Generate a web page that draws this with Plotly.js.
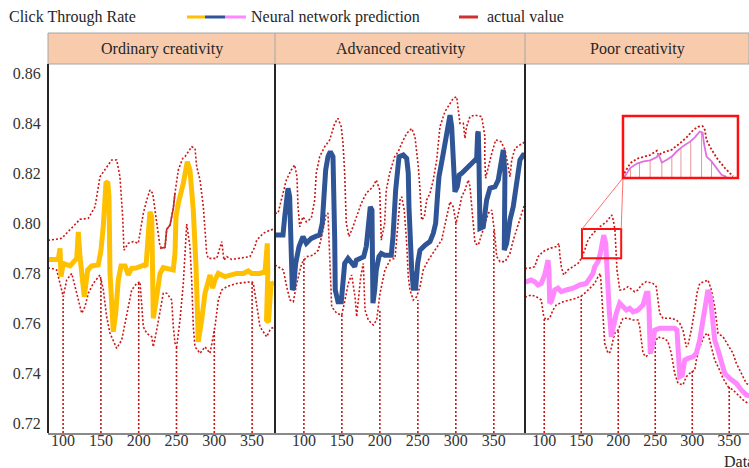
<!DOCTYPE html>
<html><head><meta charset="utf-8">
<script src="https://cdn.plot.ly/plotly-3.0.1.min.js"></script>
<style>html,body{margin:0;padding:0;background:#fff}#chart{width:749px;height:468px}</style>
</head><body><div id="chart"></div>
<script>
// ---------- data ----------
const tickValues = [100,150,200,250,300,350];
const yTickValues = [0.72,0.74,0.76,0.78,0.80,0.82,0.84,0.86];
const panelTitles = ['Ordinary creativity','Advanced creativity','Poor creativity'];

// Ordinary creativity
const ordPred = [[80,0.7856],[82.6,0.7856],[93.6,0.7856],[95.9,0.7900],[97.2,0.7787],[100.2,0.7840],[109.1,0.7830],[118.0,0.7860],[120.1,0.7966],[122.3,0.7867],[128.0,0.7707],[132.5,0.7814],[137.8,0.7830],[146.5,0.7834],[150.1,0.7893],[153.1,0.7986],[156.7,0.8161],[159.0,0.8166],[160.7,0.8106],[162.0,0.7802],[164.3,0.7614],[166.4,0.7567],[169.6,0.7642],[173.0,0.7774],[176.6,0.7830],[181.9,0.7830],[186.2,0.7794],[190.7,0.7820],[197.3,0.7822],[207.4,0.7834],[209.6,0.7827],[212.7,0.7933],[214.9,0.8046],[217.2,0.8026],[217.6,0.7827],[218.0,0.7627],[219.3,0.7621],[223.8,0.7707],[228.2,0.7800],[232.5,0.7823],[237.0,0.7820],[245.7,0.7814],[248.0,0.7880],[249.3,0.8026],[252.4,0.8080],[259.0,0.8160],[264.3,0.8246],[267.8,0.8213],[272.2,0.8053],[274.5,0.7947],[275.8,0.7827],[277.5,0.7667],[278.8,0.7527],[283.3,0.7614],[287.7,0.7721],[294.3,0.7794],[297.9,0.7741],[300.9,0.7774],[305.3,0.7800],[314.1,0.7787],[320.7,0.7794],[329.6,0.7800],[338.3,0.7800],[344.9,0.7810],[349.5,0.7800],[360.4,0.7800],[367.1,0.7807],[370.1,0.7920],[370.8,0.7802],[369.1,0.7614],[371.7,0.7606],[373.7,0.7674],[375.0,0.7758],[379,0.7762]];
const ordUpper = [[80,0.7933],[82.6,0.7933],[98.1,0.7940],[109.1,0.7973],[122.3,0.8016],[133.3,0.8020],[142.2,0.8066],[148.8,0.8186],[157.6,0.8226],[164.3,0.8253],[170.9,0.8253],[175.2,0.8186],[178.8,0.8026],[180.5,0.7893],[186.2,0.7920],[192.8,0.7927],[199.4,0.7920],[206.1,0.8040],[210.6,0.8093],[214.9,0.8133],[218.5,0.8120],[221.5,0.8053],[228.2,0.7907],[232.5,0.7900],[234.8,0.7904],[237.0,0.7976],[241.4,0.7993],[245.8,0.8060],[248.0,0.8121],[252.4,0.8213],[258.2,0.8259],[261.2,0.8266],[270.1,0.8306],[274.5,0.8299],[276.7,0.8226],[281.1,0.8173],[285.5,0.8066],[289.9,0.7880],[292.0,0.7860],[303.2,0.7860],[309.8,0.7927],[312.8,0.7853],[316.4,0.7867],[323.0,0.7856],[334.0,0.7860],[347.2,0.7867],[353.8,0.7907],[356.1,0.7933],[364.8,0.7960],[373.7,0.7973],[379.0,0.7977]];
const ordLower = [[80,0.7822],[84.9,0.7820],[91.5,0.7814],[95.9,0.7760],[100.2,0.7707],[104.7,0.7774],[111.4,0.7800],[118.0,0.7721],[124.6,0.7641],[128.9,0.7667],[133.3,0.7721],[139.9,0.7760],[148.8,0.7794],[153.2,0.7734],[157.6,0.7627],[162.0,0.7561],[170.9,0.7501],[177.5,0.7534],[184.1,0.7627],[190.7,0.7734],[197.3,0.7760],[201.7,0.7767],[206.1,0.7587],[210.6,0.7561],[217.2,0.7547],[219.3,0.7507],[223.8,0.7574],[227.2,0.7634],[232.5,0.7721],[237.0,0.7721],[243.6,0.7694],[245.8,0.7587],[248.0,0.7522],[250.2,0.7507],[254.6,0.7614],[259.0,0.7760],[263.5,0.7997],[267.8,0.7907],[270.1,0.7774],[272.2,0.7587],[274.5,0.7507],[281.1,0.7481],[287.7,0.7507],[294.3,0.7481],[300.9,0.7587],[305.3,0.7694],[309.8,0.7734],[316.4,0.7747],[329.6,0.7760],[349.5,0.7767],[351.6,0.7760],[355.1,0.7694],[360.4,0.7587],[369.3,0.7547],[373.7,0.7574],[376.3,0.7582],[380.3,0.7585]];
const ordActual = [[228.2,0.7900],[234.8,0.7904],[237.0,0.7976],[241.4,0.7993],[245.8,0.8060],[248.0,0.8121]];
const ordMarkTop = [0.7707,0.7780,0.7765,0.7507,0.7580,0.7767];

// Advanced creativity
const advPred = [[62,0.7953],[72.5,0.7953],[74.8,0.8026],[76.9,0.8106],[79.1,0.8140],[81.3,0.8106],[83.4,0.7933],[84.8,0.7734],[86.6,0.7747],[89.2,0.7840],[93.6,0.7907],[98.8,0.7947],[103.2,0.7920],[109.8,0.7940],[116.3,0.7949],[120.8,0.7953],[124.2,0.8000],[126.1,0.8133],[128.7,0.8213],[131.7,0.8266],[134.8,0.8286],[138.3,0.8266],[139.6,0.8133],[140.6,0.7933],[141.3,0.7734],[144.9,0.7687],[149.2,0.7687],[151.5,0.7760],[153.7,0.7840],[158.1,0.7860],[162.4,0.7847],[166.9,0.7827],[169.0,0.7853],[174.2,0.7860],[178.7,0.7867],[182.1,0.7907],[184.4,0.8000],[187.4,0.8066],[189.6,0.8053],[190.0,0.7933],[190.9,0.7681],[193.2,0.7734],[195.3,0.7814],[198.8,0.7867],[201.9,0.7880],[206.3,0.7873],[215.0,0.7873],[217.3,0.7947],[220.8,0.8133],[225.2,0.8266],[230.8,0.8273],[235.3,0.8259],[237.4,0.8200],[238.3,0.8066],[239.6,0.7933],[241.9,0.7814],[244.0,0.7741],[247.1,0.7741],[249.8,0.7840],[252.8,0.7893],[259.4,0.7913],[265.9,0.7927],[270.3,0.7960],[273.4,0.8000],[276.1,0.8120],[277.8,0.8186],[283.4,0.8279],[287.9,0.8346],[290.9,0.8399],[292.3,0.8432],[294.5,0.8386],[296.6,0.8200],[298.8,0.8126],[301.9,0.8146],[304.5,0.8193],[307.7,0.8200],[312.0,0.8213],[320.8,0.8233],[327.4,0.8259],[328.7,0.8359],[329.5,0.8366],[330.4,0.8259],[330.4,0.7986],[331.7,0.7980],[336.1,0.7986],[340.5,0.8093],[344.9,0.8140],[351.5,0.8146],[355.8,0.8173],[360.3,0.8273],[362.4,0.8293],[364.6,0.8200],[363.7,0.8066],[363.7,0.7893],[366.8,0.7920],[371.2,0.8013],[375.5,0.8066],[380.0,0.8160],[384.4,0.8253],[388.7,0.8273],[391,0.8273]];
const advUpper = [[62,0.8041],[65.9,0.8040],[70.3,0.8093],[76.9,0.8173],[83.4,0.8213],[87.9,0.8233],[90.9,0.8186],[92.3,0.8066],[94.5,0.7986],[98.8,0.8026],[103.2,0.8006],[109.8,0.8020],[114.2,0.8093],[116.3,0.8200],[120.8,0.8266],[127.4,0.8306],[134.0,0.8333],[140.6,0.8399],[144.9,0.8419],[149.2,0.8386],[151.5,0.8319],[153.7,0.8200],[155.8,0.8000],[159.4,0.7947],[164.6,0.7986],[169.0,0.8026],[175.6,0.8080],[182.1,0.8120],[190.9,0.8146],[195.3,0.8173],[199.8,0.8133],[200.6,0.8053],[201.9,0.7933],[206.3,0.8000],[208.4,0.8133],[212.9,0.8200],[219.5,0.8266],[224.2,0.8286],[228.7,0.8319],[235.3,0.8359],[241.9,0.8379],[246.2,0.8346],[250.6,0.8226],[252.8,0.8133],[255.0,0.8013],[258.5,0.8026],[261.6,0.8093],[266.0,0.8120],[270.3,0.8173],[274.8,0.8253],[279.1,0.8386],[285.7,0.8446],[292.3,0.8479],[296.6,0.8499],[301.1,0.8505],[303.2,0.8452],[305.4,0.8399],[309.8,0.8399],[312.0,0.8339],[314.2,0.8386],[318.6,0.8426],[325.2,0.8432],[334.0,0.8426],[338.3,0.8346],[338.0,0.8266],[339.2,0.8180],[342.7,0.8226],[347.2,0.8279],[352.5,0.8333],[359.4,0.8326],[364.7,0.8293],[369.1,0.8226],[371.3,0.8186],[373.5,0.8253],[377.8,0.8299],[384.4,0.8313],[388.7,0.8319],[391,0.8325]];
const advLower = [[62,0.7834],[72.9,0.7814],[77.4,0.7747],[81.7,0.7694],[86.1,0.7687],[90.6,0.7760],[97.1,0.7840],[103.7,0.7867],[112.4,0.7873],[119.0,0.7893],[123.8,0.7953],[129.1,0.8033],[131.7,0.8041],[133.7,0.7893],[136.6,0.7667],[143.2,0.7641],[149.8,0.7634],[154.1,0.7694],[158.4,0.7760],[162.9,0.7794],[167.3,0.7707],[169.5,0.7627],[171.6,0.7694],[174.8,0.7787],[178.2,0.7840],[180.4,0.7654],[184.8,0.7614],[191.3,0.7594],[195.8,0.7614],[200.2,0.7721],[206.7,0.7814],[213.3,0.7853],[219.9,0.7861],[224.2,0.8000],[226.5,0.8093],[228.7,0.8106],[232.1,0.8053],[235.3,0.7920],[237.4,0.7787],[239.6,0.7734],[244.0,0.7694],[248.4,0.7707],[252.8,0.7747],[257.1,0.7814],[263.7,0.7853],[272.5,0.7893],[281.3,0.7933],[287.9,0.8026],[292.3,0.8086],[296.6,0.8066],[300.2,0.8000],[302.8,0.8033],[307.7,0.8106],[312.0,0.8133],[316.3,0.8173],[318.6,0.8146],[322.9,0.8000],[325.2,0.7920],[329.5,0.7913],[336.1,0.7973],[342.7,0.8040],[347.2,0.8053],[350.6,0.7973],[353.8,0.7867],[358.1,0.7847],[364.7,0.7847],[371.2,0.7880],[375.6,0.7933],[382.2,0.8000],[388.7,0.8066],[391,0.8081]];
const advMarkTop = [0.7867,0.7634,0.7650,0.7694,0.8000,0.7973];

// Poor creativity
const poorPred = [[74,0.7767],[75.8,0.7767],[82.5,0.7774],[87.1,0.7767],[91.6,0.7754],[96.0,0.7760],[100.6,0.7794],[105.1,0.7853],[106.4,0.7814],[107.4,0.7681],[109.5,0.7687],[114.1,0.7734],[118.6,0.7741],[123.1,0.7727],[129.8,0.7734],[138.9,0.7741],[147.9,0.7754],[156.8,0.7760],[161.4,0.7780],[165.9,0.7800],[168.2,0.7827],[172.7,0.7847],[175.8,0.7880],[178.5,0.7940],[180.4,0.7953],[183.1,0.7920],[184.8,0.7774],[187.5,0.7667],[190.6,0.7547],[192.9,0.7587],[197.4,0.7641],[202.0,0.7681],[206.4,0.7667],[210.9,0.7654],[215.5,0.7661],[220.0,0.7647],[226.7,0.7654],[233.5,0.7674],[237.9,0.7721],[240.2,0.7721],[241.6,0.7654],[242.5,0.7547],[243.3,0.7481],[246.0,0.7507],[249.3,0.7574],[256.0,0.7581],[264.9,0.7581],[276.3,0.7581],[279.4,0.7574],[280.8,0.7481],[283.1,0.7388],[286.6,0.7394],[289.8,0.7454],[294.3,0.7461],[301.0,0.7467],[305.5,0.7481],[310.1,0.7534],[314.5,0.7614],[319.0,0.7707],[321.3,0.7734],[324.4,0.7707],[327.1,0.7614],[330.4,0.7534],[334.8,0.7494],[339.3,0.7454],[343.9,0.7401],[350.6,0.7381],[359.6,0.7361],[366.3,0.7335],[373.1,0.7315],[377.7,0.7311]];
const poorUpper = [[74,0.7820],[78.1,0.7820],[87.1,0.7827],[91.6,0.7867],[98.3,0.7887],[107.4,0.7900],[116.3,0.7907],[119.9,0.7920],[120.9,0.7880],[123.1,0.7827],[126.3,0.7794],[132.1,0.7814],[138.9,0.7827],[145.6,0.7840],[150.1,0.7860],[154.7,0.7893],[159.1,0.7933],[165.9,0.7960],[174.9,0.7986],[183.9,0.8006],[191.2,0.8033],[193.3,0.8013],[195.6,0.7973],[197.4,0.7880],[198.3,0.7814],[202.0,0.7734],[206.4,0.7734],[213.2,0.7747],[215.5,0.7741],[222.2,0.7727],[226.7,0.7734],[231.2,0.7754],[237.9,0.7767],[247.0,0.7760],[251.4,0.7747],[253.7,0.7694],[256.0,0.7641],[260.5,0.7621],[264.9,0.7621],[271.7,0.7621],[278.5,0.7614],[283.1,0.7601],[287.5,0.7574],[292.0,0.7507],[294.3,0.7514],[298.7,0.7574],[303.3,0.7654],[306.4,0.7721],[310.1,0.7760],[316.8,0.7767],[321.3,0.7774],[323.6,0.7754],[325.8,0.7734],[330.4,0.7667],[334.8,0.7561],[341.6,0.7547],[348.3,0.7514],[355.1,0.7481],[359.6,0.7441],[366.3,0.7401],[373.1,0.7361],[376.7,0.7355]];
const poorLower = [[74,0.7707],[75.8,0.7707],[82.5,0.7714],[89.3,0.7707],[96.0,0.7694],[99.3,0.7627],[102.8,0.7614],[107.4,0.7621],[111.8,0.7654],[116.3,0.7674],[125.4,0.7687],[134.4,0.7694],[143.3,0.7701],[152.4,0.7714],[161.4,0.7741],[168.2,0.7760],[172.7,0.7787],[175.8,0.7800],[177.1,0.7747],[179.4,0.7627],[181.7,0.7521],[186.2,0.7481],[189.3,0.7487],[192.0,0.7521],[195.2,0.7561],[199.7,0.7574],[204.1,0.7601],[206.4,0.7621],[213.2,0.7621],[220.0,0.7614],[226.7,0.7614],[229.0,0.7587],[231.2,0.7534],[233.5,0.7481],[237.1,0.7467],[242.5,0.7481],[249.3,0.7521],[253.7,0.7547],[258.2,0.7541],[262.8,0.7541],[267.3,0.7527],[271.7,0.7481],[276.3,0.7401],[280.8,0.7361],[287.5,0.7355],[292.0,0.7388],[296.6,0.7401],[303.3,0.7414],[305.5,0.7454],[310.1,0.7507],[316.8,0.7554],[321.3,0.7561],[325.8,0.7507],[330.4,0.7454],[337.1,0.7414],[341.6,0.7381],[348.3,0.7348],[355.1,0.7335],[361.9,0.7315],[368.7,0.7295],[375.4,0.7281]];
const poorMarkTop = [0.7620,0.7710,0.7574,0.7521,0.7414,0.7348];

// Magnified inset (Poor creativity, x 151-204)
const zoomWindowX = [151,204];
const zoomWindowY = [0.7861,0.7977];
const insetPred = [[151.6,0.7863],[154.4,0.7880],[157.4,0.7888],[160.5,0.7892],[163.5,0.7894],[166.6,0.7900],[167.3,0.7906],[168.9,0.7890],[171.2,0.7895],[173.5,0.7901],[175.8,0.7911],[178.8,0.7921],[181.9,0.7929],[184.1,0.7937],[186.4,0.7948],[187.7,0.7946],[188.3,0.7926],[189.5,0.7901],[191.8,0.7892],[194.1,0.7880],[196.4,0.7867],[198.7,0.7863]];
const insetUpper = [[151.6,0.7870],[154.4,0.7889],[157.4,0.7897],[160.5,0.7900],[163.5,0.7904],[166.6,0.7912],[167.3,0.7903],[168.9,0.7908],[171.2,0.7911],[173.5,0.7914],[175.0,0.7919],[177.3,0.7926],[180.3,0.7937],[183.4,0.7951],[185.7,0.7957],[187.7,0.7958],[188.7,0.7951],[189.5,0.7932],[191.8,0.7914],[194.8,0.7895],[197.9,0.7880],[201.7,0.7864]];
const insetStemX = [154.4,158.6,163.5,168.9,173.5,177.7,182.2,187.2,191.8];
const insetStemTop = [0.7880,0.7890,0.7894,0.7890,0.7901,0.7917,0.7929,0.7947,0.7892];

// ---------- build ----------
const Y0 = 0.7163, Y1 = 0.8636;
const RED = '#CC1515';
const DOT = '2px,2px';
const xs = a => a.map(p => p[0]);
const ys = a => a.map(p => p[1]);

function stems(xv, tops, base){
  const x=[], y=[];
  xv.forEach((v,i)=>{ x.push(v,v,null); y.push(base,tops[i],null); });
  return {x,y};
}

const traces = [];
function panel(xa, ya, pred, upper, lower, marks, color){
  traces.push({x:xs(upper),y:ys(upper),xaxis:xa,yaxis:ya,mode:'lines',line:{color:RED,width:1.6,dash:DOT},hoverinfo:'skip'});
  traces.push({x:xs(lower),y:ys(lower),xaxis:xa,yaxis:ya,mode:'lines',line:{color:RED,width:1.6,dash:DOT},hoverinfo:'skip'});
  const s = stems(tickValues, marks, Y0);
  traces.push({x:s.x,y:s.y,xaxis:xa,yaxis:ya,mode:'lines',line:{color:RED,width:1.6,dash:DOT},hoverinfo:'skip'});
  traces.push({x:xs(pred),y:ys(pred),xaxis:xa,yaxis:ya,mode:'lines',line:{color:color,width:5},hoverinfo:'skip'});
}
panel('x','y',ordPred,ordUpper,ordLower,ordMarkTop,'#FFC000');
traces.push({x:xs(ordActual),y:ys(ordActual),xaxis:'x',yaxis:'y',mode:'lines',line:{color:'#C0302A',width:1.6},hoverinfo:'skip'});
panel('x2','y2',advPred,advUpper,advLower,advMarkTop,'#2F5597');
panel('x3','y3',poorPred,poorUpper,poorLower,poorMarkTop,'#FF88FF');

// inset
const is = stems(insetStemX, insetStemTop, zoomWindowY[0]);
traces.push({x:is.x,y:is.y,xaxis:'x4',yaxis:'y4',mode:'lines',line:{color:'rgba(220,60,60,0.55)',width:1},hoverinfo:'skip'});
traces.push({x:xs(insetUpper),y:ys(insetUpper),xaxis:'x4',yaxis:'y4',mode:'lines',line:{color:RED,width:1.8,dash:DOT},hoverinfo:'skip'});
traces.push({x:xs(insetPred),y:ys(insetPred),xaxis:'x4',yaxis:'y4',mode:'lines',line:{color:'#E070E0',width:1.8},hoverinfo:'skip'});

const FONT = '"Liberation Serif","Times New Roman",Times,serif';
const D1 = 227/701, D2 = 477/701;
const xCommon = {tickvals:tickValues, ticks:'', ticklabelstandoff:-8, showgrid:false, zeroline:false,
  showline:true, linecolor:'#8a8a8a', linewidth:2, tickfont:{family:FONT,size:16,color:'#333'}, fixedrange:true};
const yCommon = {range:[Y0,Y1], showgrid:false, zeroline:false, showline:false, fixedrange:true};

// inset box in panel-3 data coordinates
const insetBox = {x0:206.4, x1:361.8, y0:0.8181, y1:0.8428};

const shapes = [
  {type:'rect',xref:'paper',yref:'paper',x0:0,x1:1,y0:1.0,y1:1.084,fillcolor:'#F8CBAD',line:{color:'#A6A6A6',width:1},layer:'below'},
  {type:'line',xref:'paper',yref:'paper',x0:D1,x1:D1,y0:1.0,y1:1.084,line:{color:'#A6A6A6',width:1}},
  {type:'line',xref:'paper',yref:'paper',x0:D2,x1:D2,y0:1.0,y1:1.084,line:{color:'#A6A6A6',width:1}},
  {type:'line',xref:'paper',yref:'paper',x0:0,x1:0,y0:0,y1:1,line:{color:'#262626',width:2}},
  {type:'line',xref:'paper',yref:'paper',x0:D1,x1:D1,y0:0,y1:1,line:{color:'#262626',width:2}},
  {type:'line',xref:'paper',yref:'paper',x0:D2,x1:D2,y0:0,y1:1,line:{color:'#262626',width:2}},
  // legend swatches
  {type:'line',xref:'paper',yref:'paper',x0:0.1983,x1:0.2240,y0:1.1274,y1:1.1274,line:{color:'#FFC000',width:3}},
  {type:'line',xref:'paper',yref:'paper',x0:0.2240,x1:0.2525,y0:1.1274,y1:1.1274,line:{color:'#2F5597',width:3}},
  {type:'line',xref:'paper',yref:'paper',x0:0.2525,x1:0.2825,y0:1.1274,y1:1.1274,line:{color:'#FF88FF',width:3}},
  {type:'line',xref:'paper',yref:'paper',x0:0.5863,x1:0.6134,y0:1.1274,y1:1.1274,line:{color:'#D03030',width:3}},
  // zoom window, connectors, inset frame
  {type:'rect',xref:'x3',yref:'y3',x0:zoomWindowX[0],x1:zoomWindowX[1],y0:zoomWindowY[0],y1:zoomWindowY[1],line:{color:'#FF1010',width:2}},
  {type:'line',xref:'x3',yref:'y3',x0:zoomWindowX[0],y0:zoomWindowY[1],x1:insetBox.x0,y1:insetBox.y0,line:{color:'#FF7070',width:1}},
  {type:'line',xref:'x3',yref:'y3',x0:zoomWindowX[1],y0:zoomWindowY[1],x1:insetBox.x0,y1:insetBox.y0,line:{color:'#FF7070',width:1}},
  {type:'rect',xref:'x3',yref:'y3',x0:insetBox.x0,x1:insetBox.x1,y0:insetBox.y0,y1:insetBox.y1,line:{color:'#FF1010',width:2.5}}
];

const annFont = {family:FONT,size:16,color:'#262626'};
const annotations = [
  {xref:'paper',yref:'paper',x:-0.0585,y:1.1274,xanchor:'left',yanchor:'middle',text:'Click Through Rate',showarrow:false,font:annFont},
  {xref:'paper',yref:'paper',x:0.2867,y:1.1274,xanchor:'left',yanchor:'middle',text:'Neural network prediction',showarrow:false,font:annFont},
  {xref:'paper',yref:'paper',x:0.6234,y:1.1274,xanchor:'left',yanchor:'middle',text:'actual value',showarrow:false,font:annFont},
  {xref:'paper',yref:'paper',x:D1/2,y:1.041,xanchor:'center',yanchor:'middle',text:panelTitles[0],showarrow:false,font:annFont},
  {xref:'paper',yref:'paper',x:(D1+D2)/2,y:1.041,xanchor:'center',yanchor:'middle',text:panelTitles[1],showarrow:false,font:annFont},
  {xref:'paper',yref:'paper',x:(D2+1)/2,y:1.041,xanchor:'center',yanchor:'middle',text:panelTitles[2],showarrow:false,font:annFont},
  {xref:'paper',yref:'paper',x:0.9615,y:-0.076,xanchor:'left',yanchor:'middle',text:'Data',showarrow:false,font:annFont}
];

const layout = {
  width:749, height:468, margin:{l:48,r:0,t:64,b:35},
  paper_bgcolor:'#ffffff', plot_bgcolor:'rgba(0,0,0,0)', showlegend:false,
  font:{family:FONT,size:16,color:'#333'},
  xaxis:Object.assign({domain:[0,D1],range:[80,380.3],anchor:'y'},xCommon),
  xaxis2:Object.assign({domain:[D1,D2],range:[62,391],anchor:'y2'},xCommon),
  xaxis3:Object.assign({domain:[D2,1],range:[74,376.7],anchor:'y3'},xCommon),
  yaxis:Object.assign({anchor:'x',tickvals:yTickValues,tickformat:'.2f',ticks:'outside',ticklen:3,tickcolor:'rgba(0,0,0,0)',tickfont:{family:FONT,size:16,color:'#333'}},yCommon),
  yaxis2:Object.assign({anchor:'x2',showticklabels:false},yCommon),
  yaxis3:Object.assign({anchor:'x3',showticklabels:false},yCommon),
  xaxis4:{domain:[0.8203,0.9843],range:zoomWindowX,anchor:'y4',visible:false,fixedrange:true},
  yaxis4:{domain:[0.6911,0.8591],range:zoomWindowY,anchor:'x4',visible:false,fixedrange:true},
  shapes:shapes, annotations:annotations
};

Plotly.newPlot('chart', traces, layout, {staticPlot:true, displayModeBar:false});
</script>
</body></html>
